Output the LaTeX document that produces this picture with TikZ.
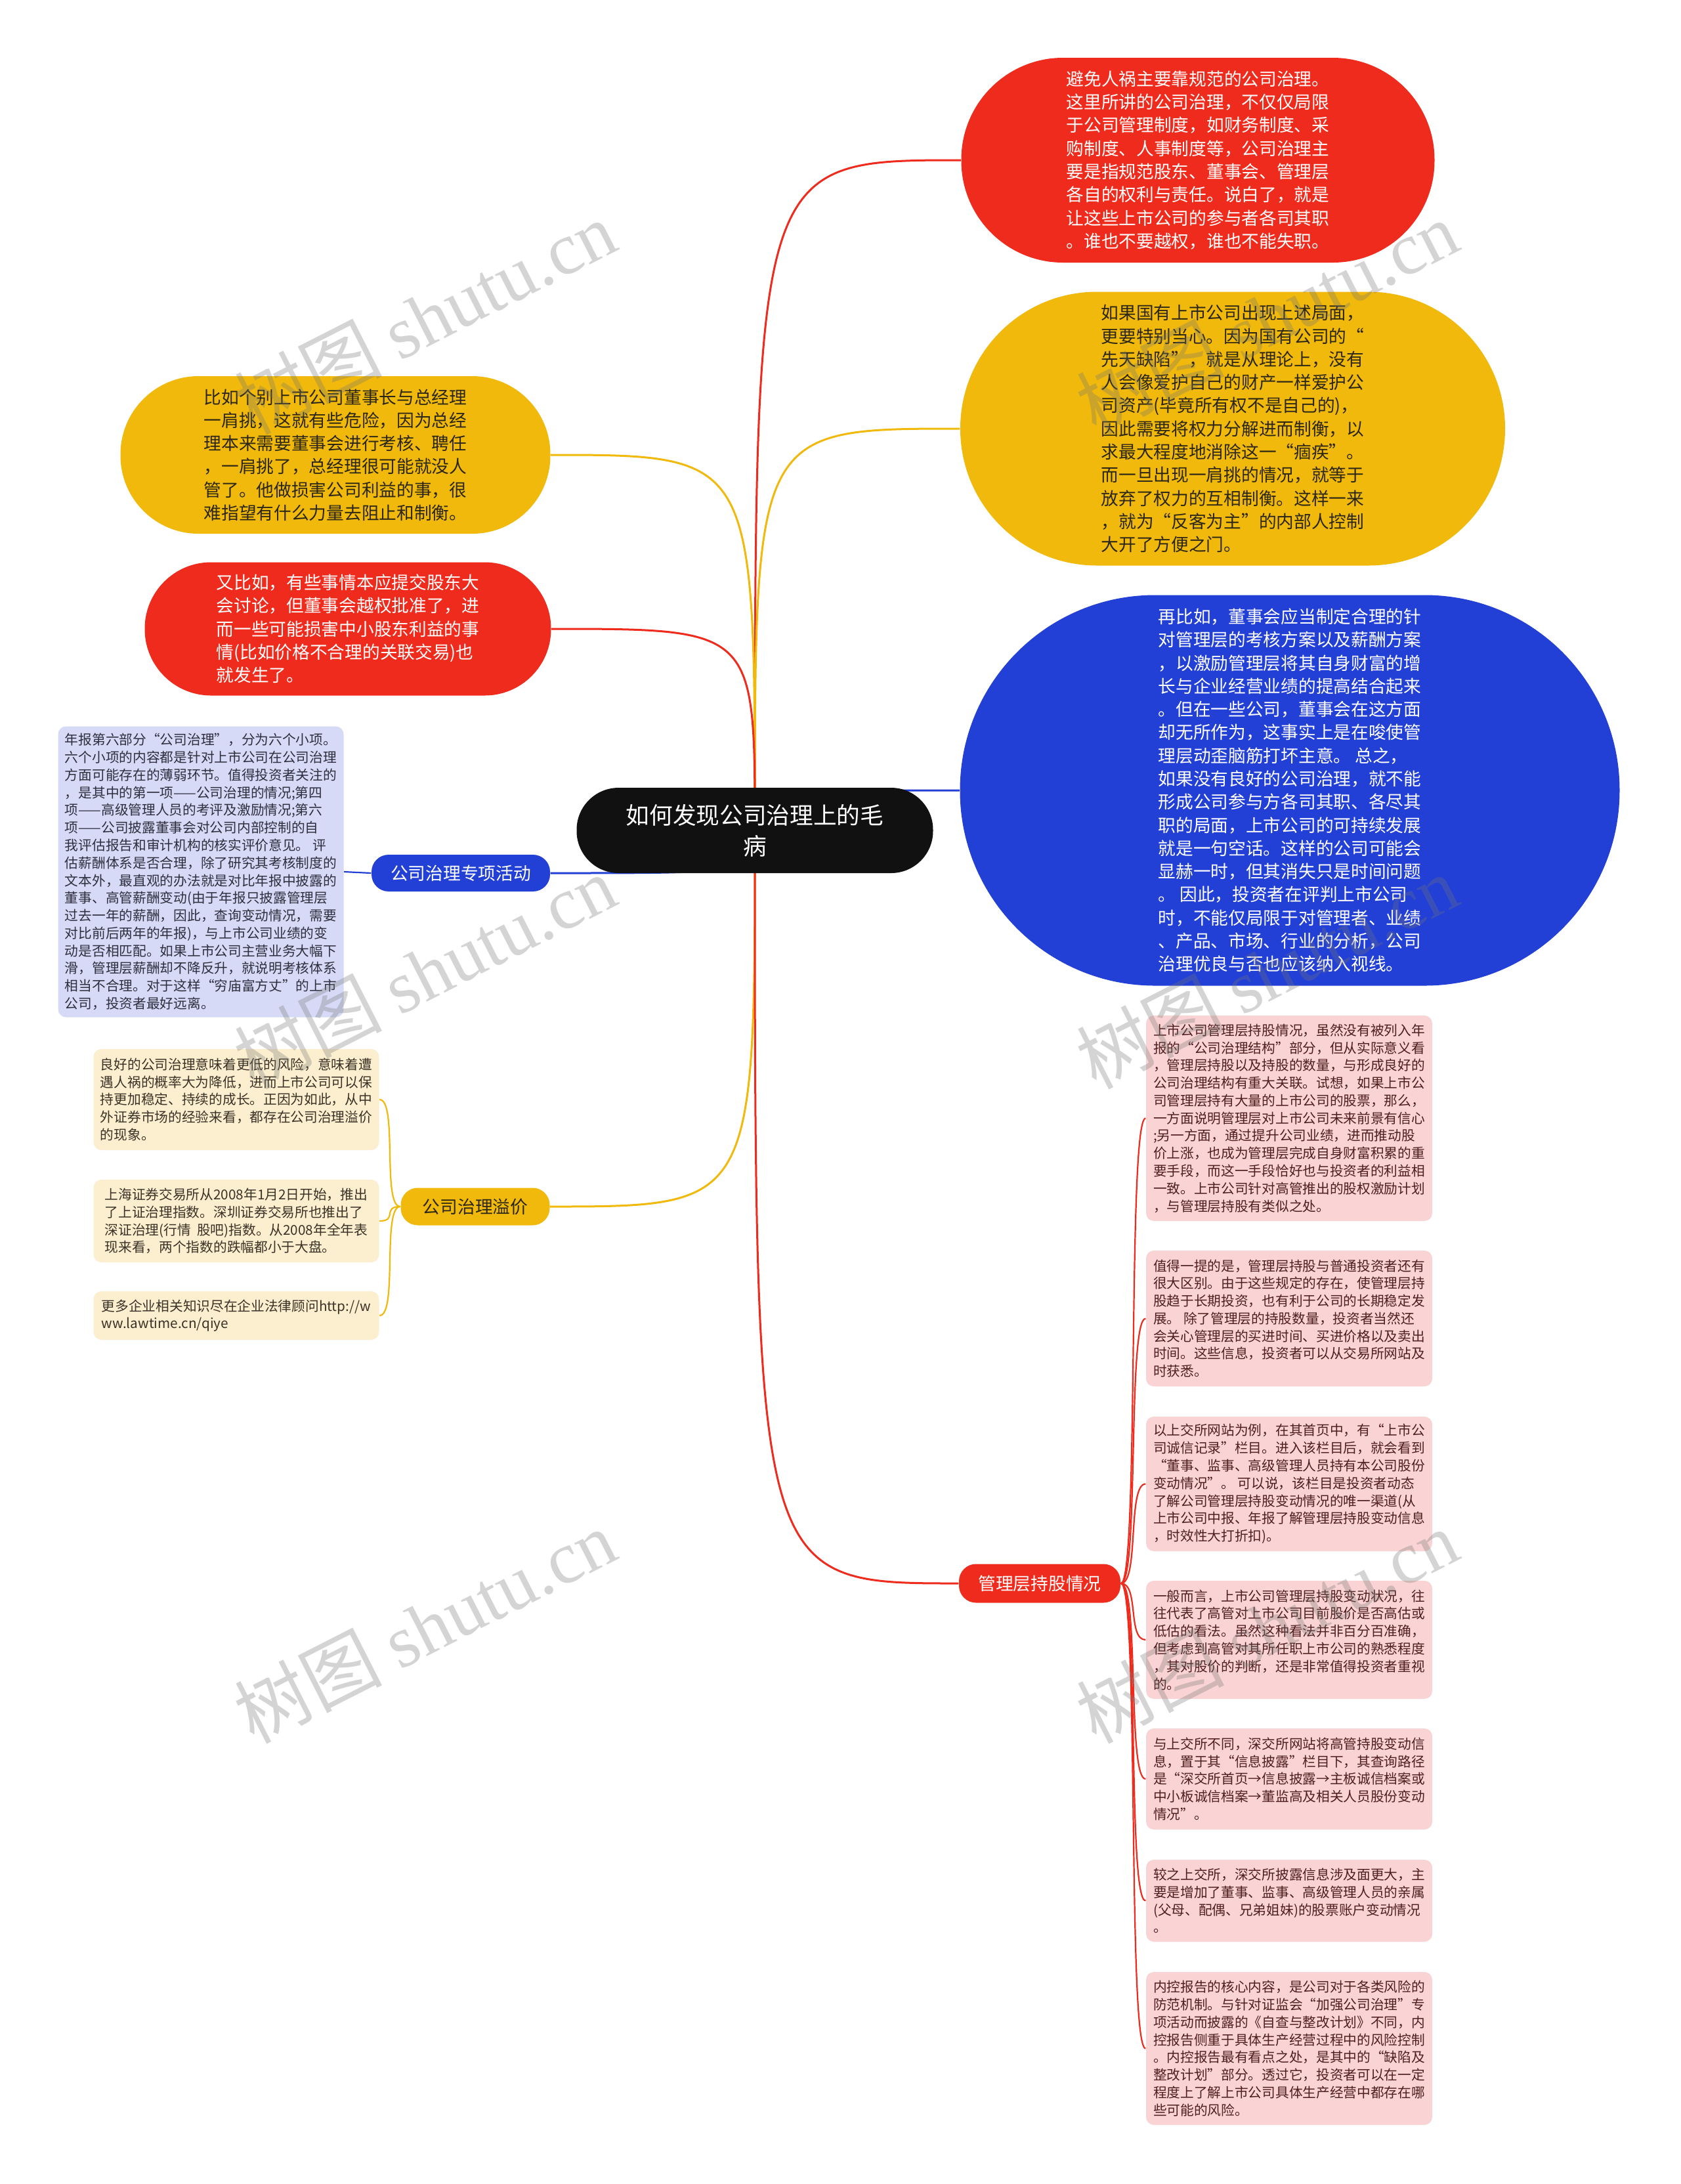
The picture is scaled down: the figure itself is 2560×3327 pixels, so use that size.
\documentclass[tikz,border=0pt]{standalone}
\usepackage{fontspec}
\setmainfont{Noto Sans CJK SC}
\newfontfamily\wmserif{Liberation Serif}
\usetikzlibrary{backgrounds,calc}
\definecolor{cred}{HTML}{EE2B1C}
\definecolor{cyel}{HTML}{F0B90C}
\definecolor{cblu}{HTML}{2340D6}
\definecolor{cblk}{HTML}{111111}
\definecolor{cpink}{HTML}{FAD4D4}
\definecolor{clav}{HTML}{D6DAF6}
\definecolor{cpale}{HTML}{FCEFCF}
\definecolor{tpink}{HTML}{4F1E1E}
\definecolor{tpale}{HTML}{3A3226}
\definecolor{tlav}{HTML}{2E2E3E}
\definecolor{tyel}{HTML}{2B2615}
\tikzset{
  bub/.style={font=\fontsize{7.6pt}{10.04pt}\selectfont, align=left, inner sep=0pt},
  lab/.style={font=\fontsize{7.6pt}{10.04pt}\selectfont, align=center, inner sep=0pt, rounded corners=2.6mm},
  card/.style={font=\fontsize{5.89pt}{7.62pt}\selectfont, align=left, inner sep=0pt, rounded corners=1.2mm, minimum width=43.5mm},
  pinkcard/.style={card, fill=cpink, text=tpink, minimum width=43.6mm},
  palecard/.style={card, fill=cpale, text=tpale},
  mainedge/.style={line width=0.3mm},
  subedge/.style={line width=0.22mm},
  wm/.style={font=\fontsize{32pt}{34pt}\selectfont, text=black!55, opacity=0.3, rotate=27, inner sep=0pt}
}
\begin{document}
\begin{tikzpicture}[x=0.1mm, y=-0.1mm]
\begin{scope}[on background layer]
\fill[white] (0,0) rectangle (2560,3327);
\end{scope}
\useasboundingbox (0,0) rectangle (2560,3327);

% central node
\node[fill=cblk, text=white, font=\fontsize{10.15pt}{13.3pt}\selectfont, align=center, inner sep=0pt,
  minimum width=54.3mm, minimum height=13.0mm, rounded corners=6.4mm] (ctr) at (1150,1265) {如何发现公司治理上的毛\\病};

% right bubbles
\node[bub, fill=cred, text=white, minimum width=72.1mm, minimum height=31.2mm, rounded corners=15.5mm] (r1) at (1825,244) {避免人祸主要靠规范的公司治理。\\这里所讲的公司治理，不仅仅局限\\于公司管理制度，如财务制度、采\\购制度、人事制度等，公司治理主\\要是指规范股东、董事会、管理层\\各自的权利与责任。说白了，就是\\让这些上市公司的参与者各司其职\\。谁也不要越权，谁也不能失职。};

\node[bub, fill=cyel, text=tyel, minimum width=83.0mm, minimum height=41.7mm, rounded corners=20.8mm] (y1) at (1878,653) {如果国有上市公司出现上述局面，\\更要特别当心。因为国有公司的“\\先天缺陷”，就是从理论上，没有\\人会像爱护自己的财产一样爱护公\\司资产(毕竟所有权不是自己的)，\\因此需要将权力分解进而制衡，以\\求最大程度地消除这一“痼疾”。\\而一旦出现一肩挑的情况，就等于\\放弃了权力的互相制衡。这样一来\\，就为“反客为主”的内部人控制\\大开了方便之门。};

\node[bub, fill=cblu, text=white, minimum width=100.5mm, minimum height=59.5mm, rounded corners=29.7mm] (b1) at (1965,1204) {再比如，董事会应当制定合理的针\\对管理层的考核方案以及薪酬方案\\，以激励管理层将其自身财富的增\\长与企业经营业绩的提高结合起来\\。但在一些公司，董事会在这方面\\却无所作为，这事实上是在唆使管\\理层动歪脑筋打坏主意。 总之，\\如果没有良好的公司治理，就不能\\形成公司参与方各司其职、各尽其\\职的局面，上市公司的可持续发展\\就是一句空话。这样的公司可能会\\显赫一时，但其消失只是时间问题\\。 因此，投资者在评判上市公司\\时，不能仅局限于对管理者、业绩\\、产品、市场、行业的分析，公司\\治理优良与否也应该纳入视线。};

% left bubbles
\node[bub, fill=cyel, text=tyel, minimum width=65.5mm, minimum height=24.0mm, rounded corners=11.9mm] (y2) at (511,693) {比如个别上市公司董事长与总经理\\一肩挑，这就有些危险，因为总经\\理本来需要董事会进行考核、聘任\\，一肩挑了，总经理很可能就没人\\管了。他做损害公司利益的事，很\\难指望有什么力量去阻止和制衡。};

\node[bub, fill=cred, text=white, minimum width=61.9mm, minimum height=20.3mm, rounded corners=10.1mm] (r2) at (530,958) {又比如，有些事情本应提交股东大\\会讨论，但董事会越权批准了，进\\而一些可能损害中小股东利益的事\\情(比如价格不合理的关联交易)也\\就发生了。};

% labels
\node[lab, fill=cblu, text=white, minimum width=27.2mm, minimum height=5.6mm] (l1) at (702,1330) {公司治理专项活动};
\node[lab, fill=cyel, text=tyel, minimum width=22.7mm, minimum height=5.7mm] (l2) at (724,1838) {公司治理溢价};
\node[lab, fill=cred, text=white, minimum width=24.6mm, minimum height=5.9mm] (l3) at (1584,2412) {管理层持股情况};

% lavender card
\node[card, fill=clav, text=tlav, minimum height=44.3mm] (p1) at (306,1328) {年报第六部分“公司治理”，分为六个小项。\\六个小项的内容都是针对上市公司在公司治理\\方面可能存在的薄弱环节。值得投资者关注的\\，是其中的第一项——公司治理的情况;第四\\项——高级管理人员的考评及激励情况;第六\\项——公司披露董事会对公司内部控制的自\\我评估报告和审计机构的核实评价意见。 评\\估薪酬体系是否合理，除了研究其考核制度的\\文本外，最直观的办法就是对比年报中披露的\\董事、高管薪酬变动(由于年报只披露管理层\\过去一年的薪酬，因此，查询变动情况，需要\\对比前后两年的年报)，与上市公司业绩的变\\动是否相匹配。如果上市公司主营业务大幅下\\滑，管理层薪酬却不降反升，就说明考核体系\\相当不合理。对于这样“穷庙富方丈”的上市\\公司，投资者最好远离。};

% pale yellow cards
\node[palecard, minimum height=15.4mm] (q1) at (360,1675) {良好的公司治理意味着更低的风险，意味着遭\\遇人祸的概率大为降低，进而上市公司可以保\\持更加稳定、持续的成长。正因为如此，从中\\外证券市场的经验来看，都存在公司治理溢价\\的现象。};
\node[palecard, minimum height=12.6mm] (q2) at (360,1860) {上海证券交易所从2008年1月2日开始，推出\\了上证治理指数。深圳证券交易所也推出了\\深证治理(行情\ \ 股吧)指数。从2008年全年表\\现来看，两个指数的跌幅都小于大盘。};
\node[palecard, minimum height=7.4mm] (q3) at (360,2004) {更多企业相关知识尽在企业法律顾问http://w\\ww.lawtime.cn/qiye};

% pink cards
\node[pinkcard, minimum height=31.3mm] (k1) at (1964,1703.5) {上市公司管理层持股情况，虽然没有被列入年\\报的“公司治理结构”部分，但从实际意义看\\，管理层持股以及持股的数量，与形成良好的\\公司治理结构有重大关联。试想，如果上市公\\司管理层持有大量的上市公司的股票，那么，\\一方面说明管理层对上市公司未来前景有信心\\;另一方面，通过提升公司业绩，进而推动股\\价上涨，也成为管理层完成自身财富积累的重\\要手段，而这一手段恰好也与投资者的利益相\\一致。上市公司针对高管推出的股权激励计划\\，与管理层持股有类似之处。};
\node[pinkcard, minimum height=20.7mm] (k2) at (1964,2008.5) {值得一提的是，管理层持股与普通投资者还有\\很大区别。由于这些规定的存在，使管理层持\\股趋于长期投资，也有利于公司的长期稳定发\\展。 除了管理层的持股数量，投资者当然还\\会关心管理层的买进时间、买进价格以及卖出\\时间。这些信息，投资者可以从交易所网站及\\时获悉。};
\node[pinkcard, minimum height=20.5mm] (k3) at (1964,2260.5) {以上交所网站为例，在其首页中，有“上市公\\司诚信记录”栏目。进入该栏目后，就会看到\\“董事、监事、高级管理人员持有本公司股份\\变动情况”。 可以说，该栏目是投资者动态\\了解公司管理层持股变动情况的唯一渠道(从\\上市公司中报、年报了解管理层持股变动信息\\，时效性大打折扣)。};
\node[pinkcard, minimum height=18.0mm] (k4) at (1964,2498) {一般而言，上市公司管理层持股变动状况，往\\往代表了高管对上市公司目前股价是否高估或\\低估的看法。虽然这种看法并非百分百准确，\\但考虑到高管对其所任职上市公司的熟悉程度\\，其对股价的判断，还是非常值得投资者重视\\的。};
\node[pinkcard, minimum height=15.4mm] (k5) at (1964,2710) {与上交所不同，深交所网站将高管持股变动信\\息，置于其“信息披露”栏目下，其查询路径\\是“深交所首页→信息披露→主板诚信档案或\\中小板诚信档案→董监高及相关人员股份变动\\情况”。};
\node[pinkcard, minimum height=12.5mm] (k6) at (1964,2895.5) {较之上交所，深交所披露信息涉及面更大，主\\要是增加了董事、监事、高级管理人员的亲属\\(父母、配偶、兄弟姐妹)的股票账户变动情况\\。};
\node[pinkcard, minimum height=23.3mm] (k7) at (1964,3120.5) {内控报告的核心内容，是公司对于各类风险的\\防范机制。与针对证监会“加强公司治理”专\\项活动而披露的《自查与整改计划》不同，内\\控报告侧重于具体生产经营过程中的风险控制\\。内控报告最有看点之处，是其中的“缺陷及\\整改计划”部分。透过它，投资者可以在一定\\程度上了解上市公司具体生产经营中都存在哪\\些可能的风险。};

% connectors (behind the nodes, above the white page)
\begin{scope}[on background layer]
\draw[mainedge, cred] (ctr.center) .. controls (ctr.center |- r1.west) .. (r1.west);
\draw[mainedge, cyel] (ctr.center) .. controls (ctr.center |- y1.west) .. (y1.west);
\draw[mainedge, cblu] (ctr.center) .. controls (ctr.center |- b1.west) .. (b1.west);
\draw[mainedge, cyel] (ctr.center) .. controls (ctr.center |- y2.east) .. (y2.east);
\draw[mainedge, cred] (ctr.center) .. controls (ctr.center |- r2.east) .. (r2.east);
\draw[mainedge, cblu] (ctr.center) .. controls (ctr.center |- l1.east) .. (l1.east);
\draw[mainedge, cyel] (ctr.center) .. controls (ctr.center |- l2.east) .. (l2.east);
\draw[mainedge, cred] (ctr.center) .. controls (ctr.center |- l3.west) .. (l3.west);
\draw[subedge, cblu] (l1.west) -- (p1.east);
\foreach \q in {q1,q2,q3}
  \draw[subedge, cyel] (l2.west) .. controls +(-28,0) and +(28,0) .. (\q.east);
\foreach \k in {k1,k2,k3,k4,k5,k6,k7}
  \draw[subedge, cred] (l3.east) .. controls +(28,0) and +(-28,0) .. (\k.west);
\end{scope}

% watermarks
\node[wm] (wm1) at (647,483) {树图 {\wmserif shutu.cn}};
\node[wm] (wm2) at (1930,483) {树图 {\wmserif shutu.cn}};
\node[wm] (wm3) at (647,1480) {树图 {\wmserif shutu.cn}};
\node[wm] (wm4) at (1930,1480) {树图 {\wmserif shutu.cn}};
\node[wm] (wm5) at (647,2477) {树图 {\wmserif shutu.cn}};
\node[wm] (wm6) at (1930,2477) {树图 {\wmserif shutu.cn}};
\end{tikzpicture}
\end{document}
